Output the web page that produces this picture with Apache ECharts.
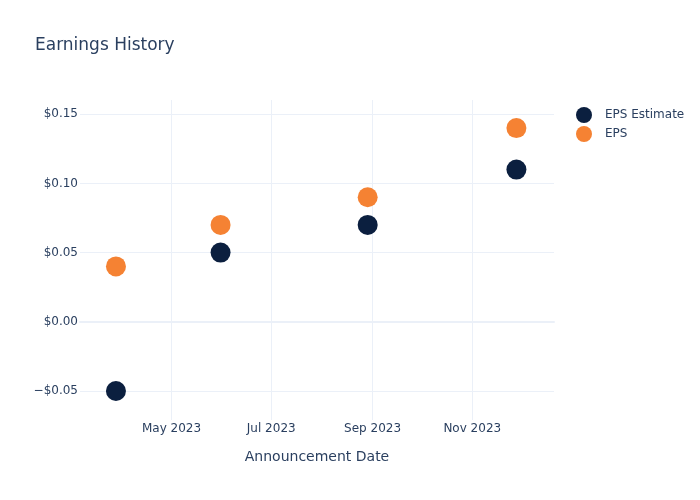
<!DOCTYPE html>
<html>
<head>
<meta charset="utf-8">
<script src="https://cdn.jsdelivr.net/npm/echarts@6/dist/echarts.min.js"></script>
<style>html,body{margin:0;padding:0;background:#fff}#c{width:700px;height:500px}</style>
</head>
<body>
<div id="c"></div>
<script>
const dates = ['2023-03-28', '2023-05-31', '2023-08-29', '2023-11-28'];
const epsEstimate = [-0.05, 0.05, 0.07, 0.11];
const eps = [0.04, 0.07, 0.09, 0.14];
const xTickDates = ['2023-05-01', '2023-07-01', '2023-09-01', '2023-11-01'];
const xTickLabels = ['May 2023', 'Jul 2023', 'Sep 2023', 'Nov 2023'];
const yTicks = [-0.05, 0, 0.05, 0.10, 0.15];

const P = s => echarts.time.parse(s).getTime();
const xTickVals = xTickDates.map(P);
const FONT = 'DejaVu Sans';
const TXT = '#2a3f5f';
const GRID = '#ebf0f8';

const chart = echarts.init(document.getElementById('c'), null, {renderer: 'canvas'});
chart.setOption({
  backgroundColor: '#fff',
  animation: false,
  title: {
    text: 'Earnings History', left: 35, top: 37, padding: 0,
    textStyle: {fontFamily: FONT, fontSize: 17, fontWeight: 'normal', color: TXT}
  },
  legend: {
    orient: 'vertical', left: 576, top: 107, padding: 0,
    itemWidth: 32, itemHeight: 16, itemGap: 3, icon: 'circle',
    textStyle: {fontFamily: FONT, fontSize: 12, color: TXT},
    data: ['EPS Estimate', 'EPS']
  },
  grid: {left: 80, right: 146, top: 100, bottom: 80, containLabel: false},
  xAxis: {
    type: 'value',
    min: P('2023-03-06'), max: P('2023-12-21'),
    name: 'Announcement Date', nameLocation: 'middle', nameGap: 30,
    nameTextStyle: {fontFamily: FONT, fontSize: 14, color: TXT},
    axisLine: {show: true, onZero: true, lineStyle: {color: GRID, width: 2}},
    axisTick: {show: false, customValues: xTickVals},
    axisLabel: {
      customValues: xTickVals, margin: 3,
      fontFamily: FONT, fontSize: 12, color: TXT,
      formatter: v => { const i = xTickVals.indexOf(v); return i >= 0 ? xTickLabels[i] : ''; }
    },
    splitLine: {show: true, lineStyle: {color: GRID, width: 1}}
  },
  yAxis: {
    type: 'value', min: -0.071, max: 0.1603,
    axisLine: {show: false},
    axisTick: {show: false, customValues: yTicks},
    axisLabel: {
      customValues: yTicks, margin: 2,
      fontFamily: FONT, fontSize: 12, color: TXT,
      formatter: v => (v < -1e-9 ? '\u2212' : '') + '$' + Math.abs(v).toFixed(2)
    },
    splitLine: {show: true, lineStyle: {color: GRID, width: 1}}
  },
  series: [
    {
      name: 'EPS Estimate', type: 'scatter', symbolSize: 20,
      itemStyle: {color: '#0b1f3f', opacity: 1},
      data: dates.map((d, i) => [P(d), epsEstimate[i]])
    },
    {
      name: 'EPS', type: 'scatter', symbolSize: 20,
      itemStyle: {color: '#f58233', opacity: 1},
      data: dates.map((d, i) => [P(d), eps[i]])
    }
  ]
});
</script>
</body>
</html>
